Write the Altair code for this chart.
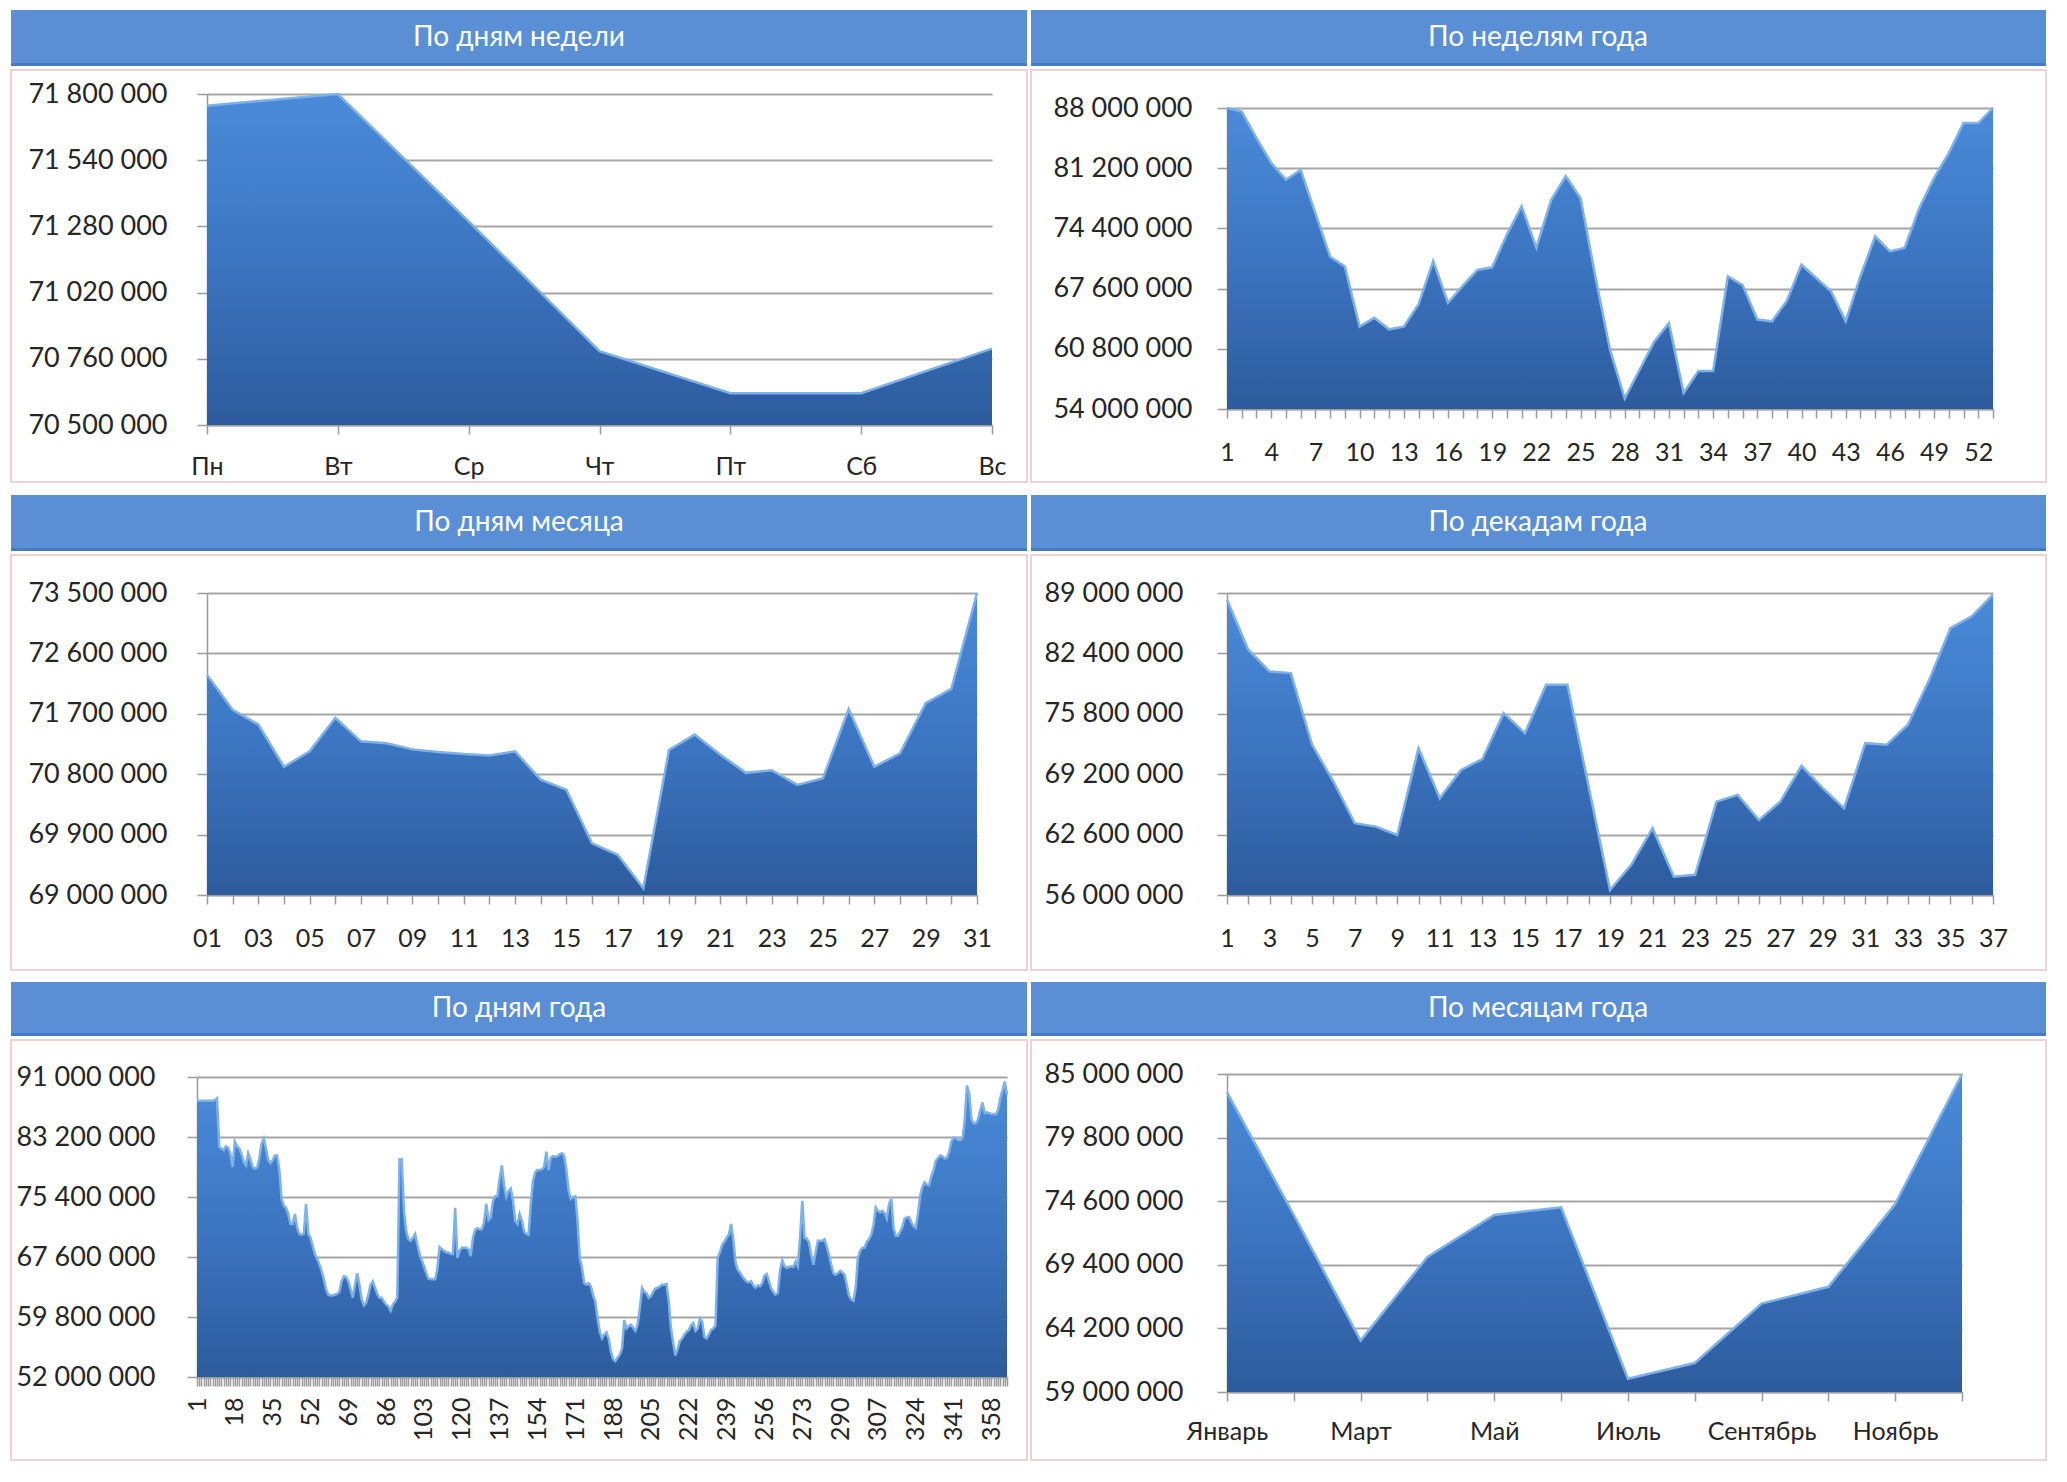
import json
import altair as alt
import pandas as pd

# ---------------- data (values in millions) ----------------
weekday_labels = ["Пн", "Вт", "Ср", "Чт", "Пт", "Сб", "Вс"]
weekday_values = [71.754, 71.80, 71.30, 70.79, 70.625, 70.625, 70.80]
weekday_ticks = [70500000, 70760000, 71020000, 71280000, 71540000, 71800000]

week_values = [88.0, 87.6, 84.6, 81.8, 79.9, 81.0, 76.1, 71.2, 70.1, 63.3,
               64.3, 63.0, 63.3, 65.8, 70.7, 66.0, 67.9, 69.7, 70.0, 73.7,
               76.9, 72.2, 77.6, 80.3, 77.8, 69.0, 60.7, 55.2, 58.4, 61.6,
               63.7, 55.8, 58.3, 58.3, 69.0, 68.0, 64.1, 63.9, 66.2, 70.3,
               68.8, 67.3, 63.9, 69.0, 73.5, 71.8, 72.2, 76.7, 80.1, 82.9,
               86.3, 86.3, 88.0]
week_ticks = [54000000, 60800000, 67600000, 74400000, 81200000, 88000000]

monthday_values = [72.28, 71.76, 71.54, 70.91, 71.14, 71.64, 71.29, 71.26, 71.17, 71.13,
                   71.10, 71.08, 71.14, 70.72, 70.57, 69.77, 69.60, 69.10, 71.16, 71.39,
                   71.09, 70.82, 70.86, 70.64, 70.74, 71.77, 70.91, 71.11, 71.86, 72.07,
                   73.50]
monthday_ticks = [69000000, 69900000, 70800000, 71700000, 72600000, 73500000]

decade_values = [88.27, 82.8, 80.43, 80.25, 72.41, 68.4, 63.85, 63.47, 62.56, 72.04,
                 66.57, 69.67, 70.84, 75.87, 73.68, 78.97, 78.97, 67.8, 56.54, 59.3,
                 63.3, 58.0, 58.2, 66.2, 66.94, 64.2, 66.2, 70.11, 67.67, 65.48,
                 72.59, 72.41, 74.6, 79.5, 85.17, 86.45, 88.82]
decade_ticks = [56000000, 62600000, 69200000, 75800000, 82400000, 89000000]

yearday_values = [
    87.9, 87.9, 87.9, 87.9, 87.9, 87.9, 87.9, 87.9, 88.0, 88.25,
    81.9, 81.7, 81.5, 82.0, 81.8, 81.0, 79.3, 82.6, 82.0, 81.7,
    81.0, 79.95, 79.5, 81.1, 80.3, 79.3, 79.1, 79.2, 80.4, 82.35,
    83.0, 81.7, 80.2, 79.8, 80.2, 80.8, 80.8, 78.9, 75.15, 74.3,
    74.0, 73.2, 71.9, 71.9, 73.2, 71.4, 70.6, 70.5, 70.6, 74.5,
    70.6, 70.1, 69.0, 67.9, 67.4, 66.6, 65.8, 64.7, 63.4, 62.7,
    62.6, 62.6, 62.7, 62.8, 63.1, 64.45, 65.1, 65.0, 64.45, 63.4,
    62.3, 64.0, 65.5, 64.0, 62.05, 61.3, 61.6, 62.7, 64.0, 64.45,
    63.6, 62.8, 62.3, 62.3, 61.8, 61.4, 61.2, 60.6, 61.4, 61.8,
    62.3, 80.3, 80.3, 73.6, 71.0, 69.9, 69.7, 70.1, 70.6, 69.25,
    68.0, 67.2, 66.4, 65.5, 64.8, 64.7, 64.7, 64.7, 66.0, 68.9,
    68.6, 68.4, 68.2, 68.2, 68.0, 68.0, 74.0, 67.5, 68.4, 68.8,
    68.8, 68.8, 68.6, 67.7, 70.1, 71.1, 71.35, 71.2, 71.2, 72.1,
    74.5, 72.4, 72.75, 74.9, 75.5, 75.5, 77.8, 79.5, 76.9, 75.4,
    76.2, 76.5, 74.9, 72.3, 71.9, 73.2, 72.3, 70.9, 70.6, 70.5,
    74.5, 77.55, 78.6, 78.9, 78.9, 79.0, 79.3, 81.3, 78.9, 80.5,
    80.7, 80.6, 80.7, 80.96, 81.1, 80.8, 78.9, 76.2, 75.15, 75.4,
    75.5, 72.3, 67.5, 66.2, 64.2, 64.0, 64.2, 63.8, 62.6, 61.8,
    59.65, 57.9, 57.0, 57.5, 57.8, 57.0, 55.3, 54.3, 54.05, 54.5,
    54.9, 55.7, 59.4, 58.3, 58.6, 58.8, 58.4, 58.0, 58.8, 60.96,
    63.6, 63.1, 62.9, 62.3, 62.5, 63.1, 63.5, 63.6, 63.8, 64.0,
    64.0, 64.1, 61.8, 58.3, 56.4, 54.8, 55.7, 56.7, 57.0, 57.5,
    57.9, 58.1, 58.7, 59.0, 58.0, 58.3, 59.6, 59.2, 57.2, 57.0,
    57.5, 58.1, 58.3, 58.7, 67.5, 68.2, 69.2, 69.6, 70.1, 70.5,
    71.9, 69.9, 66.9, 65.9, 65.6, 65.1, 64.7, 64.4, 64.3, 64.45,
    63.9, 63.6, 63.9, 63.8, 64.2, 65.2, 65.4, 64.5, 63.5, 63.05,
    62.7, 62.9, 65.8, 67.2, 66.4, 66.2, 66.3, 66.4, 66.3, 67.0,
    66.4, 70.1, 74.9, 70.1, 70.0, 69.5, 67.9, 66.6, 68.2, 69.7,
    69.7, 69.7, 69.9, 69.0, 67.9, 66.6, 65.5, 65.3, 65.5, 65.8,
    65.6, 65.3, 64.0, 62.6, 62.05, 61.9, 63.6, 67.5, 68.4, 68.8,
    68.8, 69.6, 69.9, 70.5, 71.7, 74.05, 73.6, 73.4, 73.6, 73.3,
    72.6, 74.5, 75.15, 71.4, 70.35, 70.35, 70.9, 71.5, 72.6, 72.75,
    72.8, 72.1, 71.6, 71.4, 73.2, 75.6, 76.7, 77.3, 77.0, 76.9,
    78.1, 78.9, 80.1, 80.5, 80.8, 80.7, 80.4, 80.5, 81.3, 82.6,
    83.1, 83.1, 82.8, 82.8, 83.0, 85.4, 89.9, 88.9, 85.5, 85.0,
    85.0, 85.5, 86.7, 87.7, 86.3, 86.4, 86.3, 86.2, 86.2, 86.15,
    86.7, 88.25, 89.3, 90.4, 88.7,
]
yearday_ticks = [52000000, 59800000, 67600000, 75400000, 83200000, 91000000]

month_labels = ["Январь", "Февраль", "Март", "Апрель", "Май", "Июнь",
                "Июль", "Август", "Сентябрь", "Октябрь", "Ноябрь", "Декабрь"]
month_values = [83.5, 73.47, 63.2, 70.05, 73.47, 74.1, 60.08, 61.37, 66.23, 67.6, 74.37, 85.0]
month_ticks = [59000000, 64200000, 69400000, 74600000, 79800000, 85000000]

titles = ["По дням недели", "По неделям года", "По дням месяца",
          "По декадам года", "По дням года", "По месяцам года"]

# ---------------- style ----------------
FONT = "Lato"
TXT = "#262626"
GRID = "#a6a6a6"
AXC = "#9a9a9a"
HDR = "#5a8fd6"
HDR_DARK = "#467bc2"
BOX = "#ecd2d2"
EDGE = "#7cb1ec"
GRAD = alt.Gradient(
    gradient="linear",
    stops=[alt.GradientStop(color="#4a8bd9", offset=0),
           alt.GradientStop(color="#3c75c1", offset=0.5),
           alt.GradientStop(color="#2d5b9d", offset=1)],
    x1=0, x2=0, y1=0, y2=1,
)
YFMT = "replace(replace(format(datum.value, ',d'), ',', ' '), ',', ' ')"
ONE = pd.DataFrame({"a": [0]})


def make_df(values, start):
    return pd.DataFrame({"i": list(range(start, start + len(values))),
                         "v": [round(v * 1e6) for v in values]})


def panel(title, df, xdomain, xvals, xexpr, yticks, w, h, xrange, yrange,
          hdr, txy, box, ypad, xpad, yoffset=0,
          xangle=0, xsize=25, xalign="center", xbaseline="top"):
    ymin, ymax = yticks[0], yticks[-1]
    xaxis = alt.Axis(values=xvals, tickCount=len(xvals) + 10, labelExpr=xexpr, grid=False,
                     labelOverlap=False, labelFlush=False, tickColor=AXC, tickSize=9,
                     tickWidth=1.5, domainColor=AXC, domainWidth=1.5, labelPadding=xpad,
                     labelFontSize=xsize, labelFont=FONT, labelColor=TXT,
                     labelAngle=xangle, labelAlign=xalign, labelBaseline=xbaseline)
    yaxis = alt.Axis(values=yticks, tickCount=20, labelExpr=YFMT, grid=True, gridColor=GRID,
                     gridWidth=2, tickColor=AXC, tickSize=10, tickWidth=1.5,
                     domainColor=AXC, domainWidth=1.5, labelPadding=ypad,
                     labelFontSize=27, labelFont=FONT, labelColor=TXT,
                     labelFlush=False, labelOverlap=False, offset=yoffset)
    xenc = alt.X("i:Q", title=None, axis=xaxis,
                 scale=alt.Scale(domain=xdomain, range=xrange, nice=False, zero=False))
    yenc = alt.Y("v:Q", title=None, axis=yaxis,
                 scale=alt.Scale(domain=[ymin, ymax], range=yrange, nice=False, zero=False))
    tdf = pd.DataFrame({"t": [title]})
    frame = alt.Chart(ONE).mark_rect(fillOpacity=0, stroke=BOX, strokeWidth=2).encode(
        x=alt.value(box[0]), x2=alt.value(box[1]), y=alt.value(box[2]), y2=alt.value(box[3]))
    hrect = alt.Chart(tdf).mark_rect(color=HDR).encode(
        x=alt.value(hdr[0]), x2=alt.value(hdr[1]), y=alt.value(hdr[2]), y2=alt.value(hdr[3]))
    hline = alt.Chart(tdf).mark_rect(color=HDR_DARK).encode(
        x=alt.value(hdr[0]), x2=alt.value(hdr[1]), y=alt.value(hdr[3] - 3), y2=alt.value(hdr[3]))
    htext = alt.Chart(tdf).mark_text(color="white", font=FONT, fontSize=28, align="center",
                                     baseline="middle").encode(
        text="t:N", x=alt.value(txy[0]), y=alt.value(txy[1]))
    area = alt.Chart(df).mark_area(color=GRAD).encode(x=xenc, y=yenc, y2=alt.datum(ymin))
    edge = alt.Chart(df).mark_line(color=EDGE, strokeWidth=2.5).encode(x="i:Q", y="v:Q")
    return alt.layer(frame, hrect, hline, htext, area, edge).properties(width=w, height=h)


wd_expr = json.dumps(weekday_labels, ensure_ascii=False) + "[datum.value]"
mo_expr = ("datum.value % 2 == 0 ? " + json.dumps(month_labels, ensure_ascii=False)
           + "[datum.value] : ''")

# plot origins (page px): col1 x=206, col2 x=1226; rows y=94, 593, 1063
p1 = panel(titles[0], make_df(weekday_values, 0), [0, 6], list(range(7)), wd_expr,
           weekday_ticks, 785, 331, [0, 785], [331, 0],
           (-196, 820, -84, -28), (312, -56), (-196, 820, -24, 388), 30, 20)
p2 = panel(titles[1], make_df(week_values, 1), [1, 53], list(range(1, 54)),
           "(datum.value - 1) % 3 == 0 ? '' + datum.value : ''",
           week_ticks, 766, 315, [0, 766], [315, 14],
           (-196, 819, -84, -28), (311, -56), (-196, 819, -24, 388), 25, 22)
p3 = panel(titles[2], make_df(monthday_values, 1), [1, 31], list(range(1, 32)),
           "datum.value % 2 == 1 ? (datum.value < 10 ? '0' + datum.value : '' + datum.value) : ''",
           monthday_ticks, 770, 302, [0, 770], [302, 0],
           (-196, 820, -98, -42), (312, -70), (-196, 820, -38, 377), 30, 22)
p4 = panel(titles[3], make_df(decade_values, 1), [1, 37], list(range(1, 38)),
           "datum.value % 2 == 1 ? '' + datum.value : ''",
           decade_ticks, 766, 302, [0, 766], [302, 0],
           (-196, 819, -98, -42), (311, -70), (-196, 819, -38, 377), 34, 22)
p5 = panel(titles[4], make_df(yearday_values, 1), [1, 365], list(range(1, 366)),
           "(datum.value - 1) % 17 == 0 ? '' + datum.value : ''",
           yearday_ticks, 800, 314, [-10, 800], [314, 14],
           (-196, 820, -81, -27), (312, -54), (-196, 820, -23, 397), 32, 11, yoffset=10,
           xangle=270, xsize=25, xalign="right", xbaseline="middle")
p6 = panel(titles[5], make_df(month_values, 0), [0, 11], list(range(12)), mo_expr,
           month_ticks, 735, 329, [0, 735], [329, 11],
           (-196, 819, -81, -27), (311, -54), (-196, 819, -23, 397), 34, 18)

chart = alt.concat(p1, p2, p3, p4, p5, p6, columns=2,
                   spacing={"row": 168, "column": 220},
                   bounds="flush", align="each").properties(
    padding={"left": 2, "top": 2, "right": 2, "bottom": 2},
    background="white",
).configure_view(strokeWidth=0)

chart.save("out.html", embed_options={"renderer": "svg", "actions": False})
